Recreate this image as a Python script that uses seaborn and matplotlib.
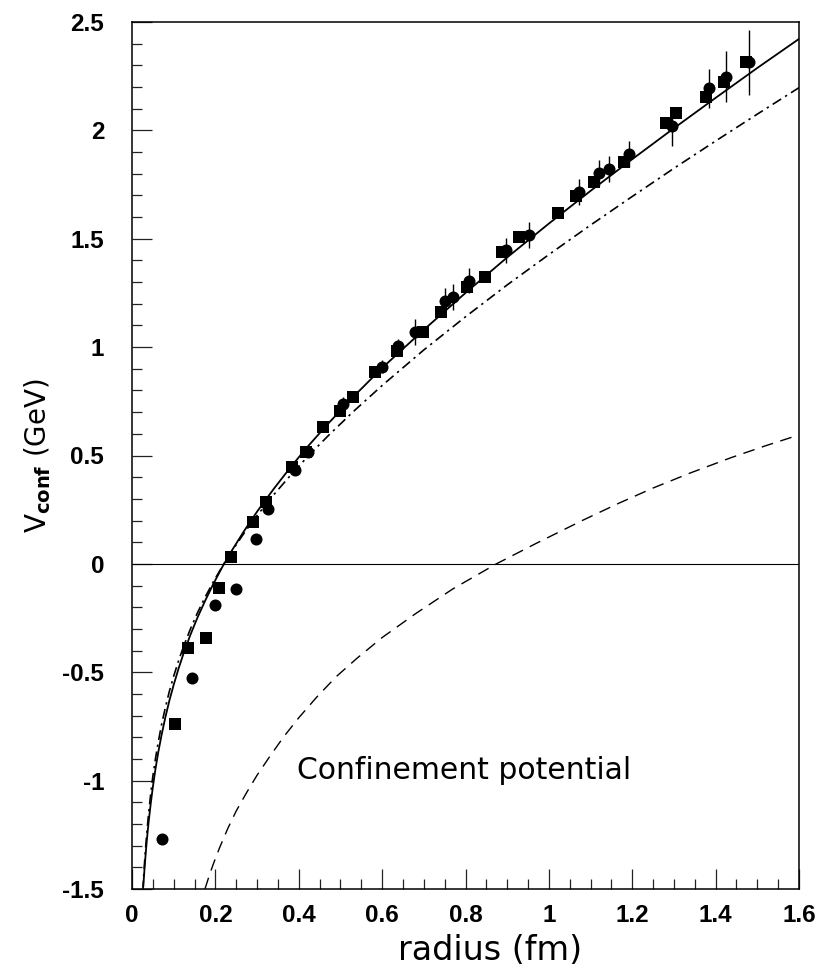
import matplotlib
matplotlib.use("Agg")
import matplotlib.pyplot as plt
import numpy as np
import pandas as pd
import seaborn as sns
from matplotlib.ticker import MultipleLocator, FuncFormatter

# ---------------- data ----------------
# full potential (solid)
solid_r = [0.027, 0.030, 0.033, 0.036, 0.040, 0.045, 0.050, 0.056, 0.063, 0.071,
           0.080, 0.090, 0.100, 0.112, 0.125, 0.140, 0.157, 0.175, 0.195, 0.217,
           0.240, 0.270, 0.300, 0.340, 0.380, 0.420, 0.470, 0.530, 0.600, 0.700,
           0.800, 0.900, 1.000, 1.100, 1.200, 1.300, 1.400, 1.500, 1.600]
solid_v = [-1.490, -1.408, -1.333, -1.267, -1.189, -1.105, -1.030, -0.950, -0.869, -0.789,
           -0.708, -0.628, -0.558, -0.481, -0.406, -0.328, -0.248, -0.172, -0.093, -0.013,
           0.063, 0.155, 0.241, 0.346, 0.445, 0.538, 0.646, 0.769, 0.904, 1.080,
           1.250, 1.414, 1.570, 1.721, 1.867, 2.010, 2.150, 2.288, 2.422]

# alternative model (dash-dot)
dashdot_r = [0.026, 0.028, 0.030, 0.033, 0.036, 0.040, 0.045, 0.050, 0.056, 0.063,
             0.071, 0.080, 0.090, 0.100, 0.112, 0.125, 0.140, 0.157, 0.175, 0.195,
             0.217, 0.240, 0.270, 0.300, 0.340, 0.380, 0.420, 0.470, 0.530, 0.600,
             0.700, 0.800, 0.900, 1.000, 1.100, 1.200, 1.300, 1.400, 1.500, 1.600]
dashdot_v = [-1.508, -1.440, -1.381, -1.301, -1.230, -1.148, -1.059, -0.980, -0.902, -0.822,
             -0.741, -0.663, -0.585, -0.518, -0.445, -0.374, -0.301, -0.226, -0.155, -0.083,
             -0.010, 0.060, 0.145, 0.223, 0.319, 0.408, 0.492, 0.590, 0.701, 0.823,
             0.987, 1.140, 1.287, 1.427, 1.563, 1.695, 1.825, 1.951, 2.075, 2.197]

# confinement potential (dashed)
dashed_r = [0.175, 0.185, 0.195, 0.210, 0.230, 0.250, 0.275, 0.300, 0.330, 0.363,
            0.400, 0.443, 0.490, 0.540, 0.600, 0.680, 0.770, 0.874, 0.970, 1.080,
            1.168, 1.250, 1.340, 1.437, 1.520, 1.600]
dashed_v = [-1.500, -1.440, -1.385, -1.310, -1.220, -1.140, -1.055, -0.975, -0.890, -0.800,
            -0.710, -0.615, -0.520, -0.435, -0.340, -0.230, -0.115, 0.000, 0.095, 0.200,
            0.280, 0.350, 0.420, 0.490, 0.545, 0.595]

# lattice data: circles (with error bars)
circ_r = [0.073, 0.145, 0.200, 0.249, 0.297, 0.327, 0.392, 0.421, 0.505, 0.600,
          0.639, 0.680, 0.752, 0.769, 0.809, 0.897, 0.953, 1.073, 1.120, 1.144,
          1.192, 1.296, 1.385, 1.425, 1.481]
circ_v = [-1.270, -0.527, -0.188, -0.118, 0.115, 0.254, 0.434, 0.514, 0.738, 0.910,
          1.006, 1.072, 1.215, 1.233, 1.307, 1.447, 1.518, 1.715, 1.802, 1.821,
          1.893, 2.018, 2.194, 2.248, 2.314]
circ_err = [0.01, 0.01, 0.01, 0.01, 0.01, 0.015, 0.02, 0.02, 0.03, 0.03,
            0.03, 0.06, 0.057, 0.06, 0.058, 0.058, 0.06, 0.059, 0.06, 0.06,
            0.06, 0.092, 0.09, 0.118, 0.149]

# lattice data: squares
sq_r = [0.103, 0.134, 0.177, 0.208, 0.238, 0.290, 0.322, 0.385, 0.417, 0.457,
        0.499, 0.531, 0.584, 0.635, 0.699, 0.742, 0.803, 0.846, 0.887, 0.928,
        1.023, 1.065, 1.108, 1.181, 1.282, 1.306, 1.378, 1.421, 1.474]
sq_v = [-0.737, -0.389, -0.343, -0.109, 0.031, 0.194, 0.285, 0.446, 0.514, 0.633,
        0.703, 0.769, 0.884, 0.980, 1.072, 1.161, 1.279, 1.324, 1.441, 1.510,
        1.621, 1.695, 1.761, 1.853, 2.036, 2.082, 2.153, 2.224, 2.314]

x_label = "radius (fm)"
y_label = r"V$_{\mathbf{conf}}$ (GeV)"
annotation = "Confinement potential"

# ---------------- plotting ----------------
sns.set_theme(style="white")
plt.rcParams["font.family"] = ["DejaVu Sans"]
plt.rcParams["mathtext.fontset"] = "dejavusans"

fig = plt.figure(figsize=(8.21, 9.76), dpi=100)
ax = fig.add_axes([132 / 821, 87 / 976, 667 / 821, 867 / 976])

df_solid = pd.DataFrame({"r": solid_r, "V": solid_v})
df_dd = pd.DataFrame({"r": dashdot_r, "V": dashdot_v})
df_dash = pd.DataFrame({"r": dashed_r, "V": dashed_v})

ax.axhline(0, color="black", lw=0.8, zorder=1)

sns.lineplot(data=df_solid, x="r", y="V", ax=ax, color="black", lw=1.3,
             sort=False, estimator=None, zorder=2)
sns.lineplot(data=df_dd, x="r", y="V", ax=ax, color="black", lw=1.2,
             sort=False, estimator=None, zorder=2)
ax.lines[-1].set_dashes([6.0, 2.8, 1.4, 2.8])
sns.lineplot(data=df_dash, x="r", y="V", ax=ax, color="black", lw=1.0,
             sort=False, estimator=None, zorder=2)
ax.lines[-1].set_dashes([8.5, 5.5])

ax.errorbar(circ_r, circ_v, yerr=circ_err, fmt="none", ecolor="black",
            elinewidth=1.0, capsize=0, zorder=3)
sns.scatterplot(x=circ_r, y=circ_v, ax=ax, marker="o", s=75, color="black",
                edgecolor="black", linewidth=0, zorder=4)
sns.scatterplot(x=sq_r, y=sq_v, ax=ax, marker="s", s=70, color="black",
                edgecolor="black", linewidth=0, zorder=4)

ax.set_xlim(0, 1.6)
ax.set_ylim(-1.5, 2.5)

ax.xaxis.set_major_locator(MultipleLocator(0.2))
ax.xaxis.set_minor_locator(MultipleLocator(0.05))
ax.yaxis.set_major_locator(MultipleLocator(0.5))
ax.yaxis.set_minor_locator(MultipleLocator(0.1))
fmt = FuncFormatter(lambda v, p: "%g" % round(v, 2))
ax.xaxis.set_major_formatter(fmt)
ax.yaxis.set_major_formatter(fmt)

ax.tick_params(axis="both", which="both", direction="in", top=False,
               right=False, left=True, bottom=True, color="#222222", width=0.9)
ax.tick_params(axis="both", which="major", length=14.5)
ax.tick_params(axis="both", which="minor", length=7.2)
ax.tick_params(axis="y", which="major", pad=20)
ax.tick_params(axis="x", which="major", pad=11)

for lab in ax.get_xticklabels() + ax.get_yticklabels():
    lab.set_family(["Liberation Sans", "DejaVu Sans"])
    lab.set_fontweight("bold")
    lab.set_fontsize(17.5)
    lab.set_color("black")

for sp in ax.spines.values():
    sp.set_visible(True)
    sp.set_color("black")
    sp.set_linewidth(1.1)

ax.set_xlabel(x_label, fontsize=24, color="black")
ax.xaxis.set_label_coords(0.537, -0.052)
ax.set_ylabel(y_label, fontsize=20, color="black")
ax.yaxis.set_label_coords(-0.118, 0.5)

ax.text(0.396, -0.955, annotation, fontsize=21.5, color="black",
        ha="left", va="center")

ax.set_facecolor("white")
fig.patch.set_facecolor("white")
fig.savefig("out.png", dpi=100)
